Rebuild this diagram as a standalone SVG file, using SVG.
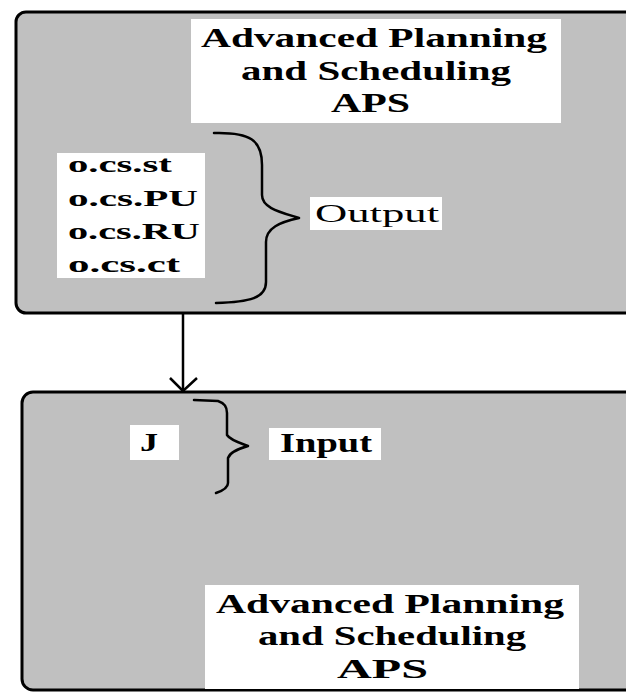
<svg xmlns="http://www.w3.org/2000/svg" width="626" height="693" viewBox="0 0 626 693">
<style>
.box{fill:#c0c0c0;stroke:#000;stroke-width:3}
.lbl{fill:#fff}
text{font-family:"Liberation Serif","Times New Roman",serif;fill:#000}
.b{font-weight:bold}
.brace{fill:none;stroke:#000;stroke-width:2.5;stroke-linecap:round;stroke-linejoin:round}
.conn{fill:none;stroke:#000;stroke-width:2.5}
</style>
<rect width="626" height="693" fill="#fff"/>
<g id="top-node">
<rect class="box" x="16" y="12" width="640" height="301" rx="10"/>
<rect class="lbl" x="191" y="19" width="370" height="104"/>
<g transform="scale(1.5,1)">
<text class="b" font-size="27" x="134" y="47" textLength="230.7" lengthAdjust="spacingAndGlyphs">Advanced Planning</text>
<text class="b" font-size="27" x="160.7" y="80" textLength="180" lengthAdjust="spacingAndGlyphs">and Scheduling</text>
<text class="b" font-size="27" x="220.7" y="112" textLength="52.7" lengthAdjust="spacingAndGlyphs">APS</text>
</g>
<rect class="lbl" x="57" y="153" width="148" height="125"/>
<g transform="scale(1.65,1)">
<text class="b" font-size="24" x="41.2" y="172" textLength="63" lengthAdjust="spacingAndGlyphs">o.cs.st</text>
<text class="b" font-size="24" x="41.2" y="206" textLength="78.8" lengthAdjust="spacingAndGlyphs">o.cs.PU</text>
<text class="b" font-size="24" x="41.2" y="239" textLength="80" lengthAdjust="spacingAndGlyphs">o.cs.RU</text>
<text class="b" font-size="24" x="41.2" y="272" textLength="67.9" lengthAdjust="spacingAndGlyphs">o.cs.ct</text>
</g>
<path class="brace" d="M214,133 C250,132 262,140 262,165 L262,195 C262,208 280,212 299,218 C280,222 266,228 266,242 L266,282 C266,298 250,302 216,303"/>
<rect class="lbl" x="310" y="197" width="132" height="33"/>
<text font-size="26" transform="scale(1.65,1)" x="190.9" y="222" textLength="75.2" lengthAdjust="spacingAndGlyphs">Output</text>
</g>
<g id="bottom-node">
<rect class="box" x="22" y="392" width="640" height="298" rx="11"/>
<path class="brace" stroke-width="2" d="M194,400 L218,401 C224,403 227,406 227,413 L227,435 C230,440 240,443 248,446 C238,449 230,452 228,458 L228,483 C228,488 222,491 216,493"/>
<rect class="lbl" x="130" y="425" width="49" height="35"/>
<text class="b" font-size="26" transform="scale(1.4,1)" x="100" y="451" textLength="12.9" lengthAdjust="spacingAndGlyphs">J</text>
<rect class="lbl" x="269" y="428" width="112" height="32"/>
<text class="b" font-size="27" transform="scale(1.5,1)" x="186.7" y="452" textLength="61.3" lengthAdjust="spacingAndGlyphs">Input</text>
<rect class="lbl" x="205" y="585" width="374" height="104"/>
<g transform="scale(1.5,1)">
<text class="b" font-size="27" x="144" y="613" textLength="232" lengthAdjust="spacingAndGlyphs">Advanced Planning</text>
<text class="b" font-size="27" x="172" y="645" textLength="178.7" lengthAdjust="spacingAndGlyphs">and Scheduling</text>
<text class="b" font-size="27" x="224.7" y="678" textLength="60.7" lengthAdjust="spacingAndGlyphs">APS</text>
</g>
</g>
<g id="connectors">
<line class="conn" x1="183" y1="313" x2="183" y2="391"/>
<polyline class="conn" points="170,378 183,391 197,378"/>
</g>
</svg>
